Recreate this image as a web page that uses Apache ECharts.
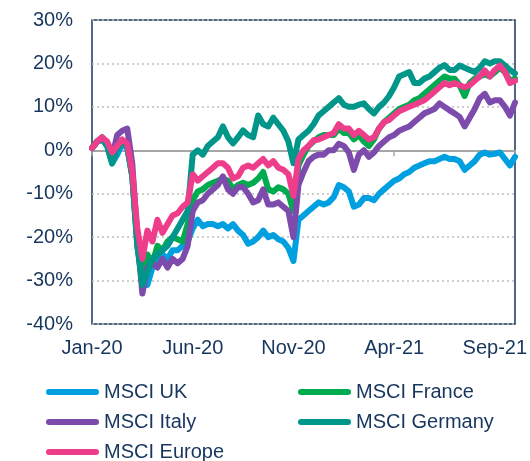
<!DOCTYPE html>
<html lang="en">

<head>
    <meta charset="utf-8">
    <title>MSCI indices</title>
    <style>
        html,body,#myChart{
            height: 100%;
            width: 100%;
            padding: 0;
            margin: 0;
            background: #fff;
        }
    </style>
</head>

<body>
    <div id="myChart"></div>
    <script type="text/javascript" src="https://cdn.jsdelivr.net/npm/echarts@6/dist/echarts.min.js"></script>
    <script>
        // x = months since 1 Jan 2020, one point every quarter month
        var months = []
        for (var i = 0; i <= 84; i++) months.push(i / 4)

        var xTickLabels = ['Jan-20', 'Jun-20', 'Nov-20', 'Apr-21', 'Sep-21']
        var yTicks = [-40, -30, -20, -10, 0, 10, 20, 30]

        var msciUK = [0.5, 2, 2.5, 1, -3, -1, 1.5, 0.5, -6, -22, -30, -31, -27, -25, -24, -25, -23, -23, -22, -21,
            -18, -16, -17.5, -17, -17, -17.5, -17, -18, -17, -18.5, -19.5, -21.5, -21, -20, -18.5,
            -20, -19.5, -20.5, -21, -22.5, -25.5, -16, -15, -14, -13, -12, -12.5, -12, -10.8, -8, -8.5, -9.5,
            -13, -12.5, -11, -11, -11.5, -10, -9, -8, -7, -6.5, -5.5, -5, -4, -3.5, -3, -2.5,
            -2.5, -2, -1.5, -2, -2, -2.5, -4.5, -3.5, -2.5, -1, -0.5, -1, -0.8, -0.5, -2, -3.5, -1.5]

        var msciFrance = [0.5, 2, 2.5, 1.5, -1.5, 0.5, 2, 1, -6, -21, -29, -24, -26, -22, -23, -21, -20, -20.5, -21, -17,
            -11.5, -9.5, -9, -8, -7.5, -7, -6.5, -7, -9, -8, -7.5, -8, -7.5, -6.5, -5,
            -9, -9.5, -8.5, -9, -10, -14, -3.5, -1, 1, 2, 3, 3.5, 3.5, 3.5, 5, 4, 4,
            2.5, 3.5, 2, 1, 2.5, 5, 6.5, 7.5, 8.5, 9.5, 10, 10.5, 11.5, 12, 13, 14,
            15, 16, 17, 16.5, 16.5, 15, 12.5, 15.5, 16.5, 17, 17.5, 17, 18, 19, 18, 16, 16.5]

        var msciItaly = [0.5, 2, 2.5, 1.5, -1.5, 3.5, 4.5, 5, -3, -20, -33, -27, -26, -27, -25, -27, -25, -26, -25, -22,
            -14, -12, -11.5, -10, -9, -8, -6, -9, -10, -8.5, -8.5, -10, -12, -11.5, -9,
            -12.5, -12.5, -12, -13, -14, -20, -8, -5, -2.5, -1.5, -1, -1, 0, 0, 1.5, 1, -0.5,
            -4.5, -1, 0, -1.5, -0.5, 1, 2, 3, 3.5, 4.5, 5, 5.5, 6.5, 7.5, 8.5, 9,
            9.5, 10.8, 10, 9.2, 8.5, 7.7, 5.5, 7.5, 9.5, 12, 13, 11, 11.5, 11.5, 10, 8, 11]

        var msciGermany = [0.5, 2, 3, 1, -3, 0.5, 2, 1, -6, -22, -31, -28, -25, -24, -23, -22, -20, -18, -16, -14,
            -1, 0, -1, 1, 2, 3, 5.5, 3, 1.6, 3, 4.6, 3.5, 3, 8, 6,
            5.5, 7.5, 6, 4.5, 2, -3, 2.5, 3.5, 4.5, 6, 8, 9, 10, 11, 12, 10.5, 10,
            10, 10.5, 10.8, 9.5, 8.5, 10, 11, 12.5, 14.5, 17, 17.5, 18, 15.5, 15.5, 16.5, 17,
            18, 19, 19.6, 18.5, 18.5, 19.5, 19, 18.5, 18, 19, 20.5, 20, 20.5, 20.5, 19.5, 18.5, 17.7]

        var msciEurope = [0.5, 2, 3, 2, -0.5, 1, 2.5, 1.5, -5, -18, -25, -18.5, -21, -16, -19, -17, -15, -14.5, -13, -12,
            -5.5, -7, -6, -5, -4, -3, -3, -4, -6.5, -6, -4, -3.5, -4, -3, -2,
            -3.5, -2.5, -4, -4.5, -5.5, -10.5, -2, 0, 1, 2.3, 2.5, 3, 3.5, 4, 6, 5, 5,
            3.5, 4.5, 3.5, 2.5, 3, 5, 6.5, 7, 8, 9, 9.5, 10, 10.5, 11, 11.5, 12.5,
            13.5, 14.5, 15.5, 15, 15.5, 15, 14.5, 15, 16, 17, 18.4, 17, 18.5, 19.5, 18, 15.5, 16]

        var navy = '#17365d'
        var font = 'Liberation Sans'

        function pairs(vals){
            return vals.map(function(v, i){ return [months[i], v] })
        }

        function line(name, vals, color){
            return {
                name: name,
                type: 'line',
                data: pairs(vals),
                showSymbol: false,
                symbol: 'none',
                xAxisIndex: 0,
                color: color,
                lineStyle: { width: 6, color: color, cap: 'round', join: 'round' }
            }
        }

        // pill shaped legend marker
        var pill = 'path://M3,0 H50 A3,3 0 0 1 50,6 H3 A3,3 0 0 1 3,0 Z'

        function legend(left, names){
            return {
                left: left,
                top: 382,
                height: 100,
                orient: 'vertical',
                padding: 0,
                itemGap: 10,
                itemWidth: 53,
                itemHeight: 6,
                icon: pill,
                data: names,
                textStyle: { color: navy, fontSize: 20, fontFamily: font, lineHeight: 20 }
            }
        }

        var myChart = echarts.init(document.getElementById('myChart'))

        myChart.setOption({
            animation: false,
            backgroundColor: '#fff',
            grid: {
                left: 92, right: 15, top: 20, bottom: 137,
                show: true,
                borderColor: navy,
                borderWidth: 1.5,
                outerBoundsMode: 'none'
            },
            legend: [
                legend(46, ['MSCI UK', 'MSCI Italy', 'MSCI Europe']),
                legend(298, ['MSCI France', 'MSCI Germany'])
            ],
            xAxis: [{
                type: 'value',
                min: 0, max: 21, interval: 5,
                axisLine: { show: false, onZero: false },
                axisTick: { show: false },
                splitLine: { show: false },
                axisLabel: {
                    color: navy, fontSize: 20, fontFamily: font, margin: 14,
                    showMaxLabel: false,
                    formatter: function(v){ return v % 5 === 0 ? xTickLabels[v / 5] : '' }
                }
            }, {
                // grey line through zero with the month ticks
                type: 'value',
                position: 'bottom',
                min: 0, max: 21, interval: 5,
                axisLine: { show: true, onZero: true, lineStyle: { color: '#a6a6a6', width: 2 } },
                axisTick: { show: true, length: 6, lineStyle: { color: '#a6a6a6', width: 1.5 } },
                axisLabel: { show: false },
                splitLine: { show: false }
            }],
            yAxis: {
                type: 'value',
                min: yTicks[0], max: yTicks[yTicks.length - 1], interval: 10,
                axisLine: { show: false },
                axisTick: { show: false },
                axisLabel: {
                    color: navy, fontSize: 20, fontFamily: font, margin: 19,
                    formatter: '{value}%'
                },
                splitLine: { lineStyle: { color: '#bdbdbd', type: [2, 3], width: 1.5 } }
            },
            series: [
                line('MSCI UK', msciUK, '#00a0e0'),
                line('MSCI France', msciFrance, '#00aa4e'),
                line('MSCI Italy', msciItaly, '#7d4bab'),
                line('MSCI Germany', msciGermany, '#009689'),
                line('MSCI Europe', msciEurope, '#ee3e8b')
            ]
        })
    </script>
</body>

</html>
